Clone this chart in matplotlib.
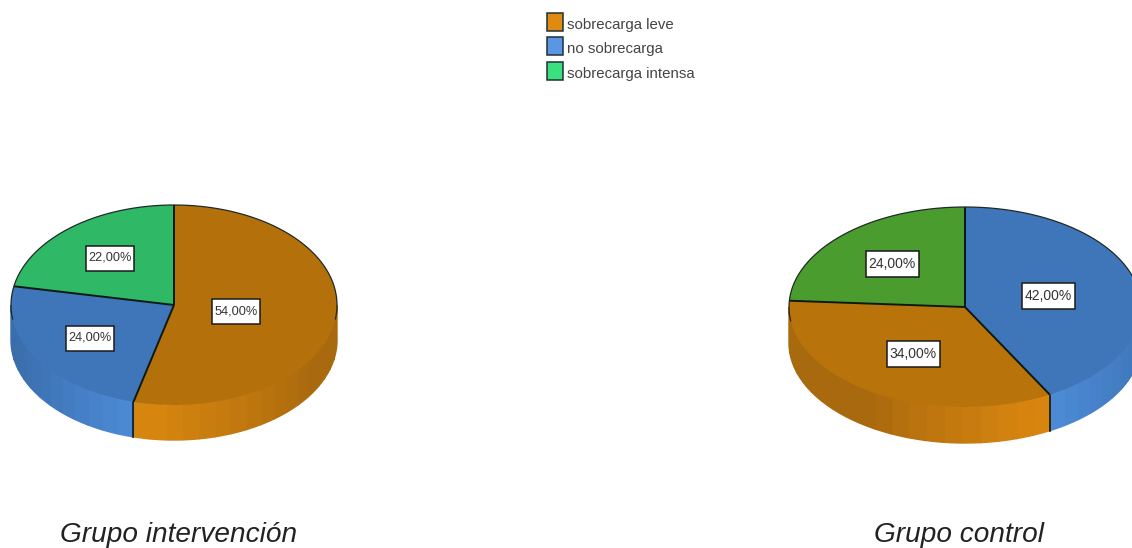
import numpy as np
import matplotlib
matplotlib.use("Agg")
import matplotlib.pyplot as plt
from matplotlib.colors import to_rgb
from matplotlib.patches import Rectangle
import matplotlib.font_manager as fm

CATEGORIES = ["sobrecarga leve", "no sobrecarga", "sobrecarga intensa"]
GROUP_1_NAME = "Grupo intervención"
GROUP_1_SLICES = ["sobrecarga leve", "no sobrecarga", "sobrecarga intensa"]
GROUP_1_VALUES = [54.0, 24.0, 22.0]
GROUP_2_NAME = "Grupo control"
GROUP_2_SLICES = ["no sobrecarga", "sobrecarga leve", "sobrecarga intensa"]
GROUP_2_VALUES = [42.0, 34.0, 24.0]

W, H = 1132, 548
BLACK = "#0d1a14"
LEGEND_COL = {"sobrecarga leve": "#e08a12", "no sobrecarga": "#5a96e2", "sobrecarga intensa": "#3adf7e"}
SIDE = {"sobrecarga leve": ("#a9690e", "#d8860f"), "no sobrecarga": ("#34659f", "#4f8edc"),
        "sobrecarga intensa": ("#2a9c50", "#33b860")}
TOP_1 = {"sobrecarga leve": "#b4700b", "no sobrecarga": "#3f75b9", "sobrecarga intensa": "#2fb865"}
TOP_2 = {"sobrecarga leve": "#b9730b", "no sobrecarga": "#3f75b9", "sobrecarga intensa": "#4a9c2f"}

names = {f.name for f in fm.fontManager.ttflist}
NARROW = "Liberation Sans Narrow" if "Liberation Sans Narrow" in names else "Liberation Sans"

fig = plt.figure(figsize=(W / 100, H / 100), dpi=100, facecolor="white")


def pie3d(values, slices, tops, cx, cy, rx, ry, depth, peak):
    d = depth / ry
    ax = fig.add_axes([(cx - rx) / W, 1 - (cy + ry + depth) / H, 2 * rx / W, (2 * ry + depth) / H])
    start = 0.0
    total = sum(values)
    bounds = []
    radii = []
    for v, name in zip(values, slices):
        end = start + 360.0 * v / total
        radii.append(np.radians(start))
        a, b = max(start, 90.0), min(end, 270.0)
        if b > a:
            edges = np.linspace(a, b, max(2, int((b - a) / 6) + 2))
            dark, light = map(np.array, map(to_rgb, SIDE[name]))
            for t0, t1 in zip(edges[:-1], edges[1:]):
                tt = np.radians(np.linspace(t0, t1, 6))
                x, y = np.sin(tt), np.cos(tt)
                s = 1 - min(1, abs(x.mean() - peak) / (1 - abs(peak) * 0.2))
                col = dark + (light - dark) * s ** 0.8
                ax.fill(np.r_[x, x[::-1]], np.r_[y, y[::-1] - d], facecolor=col, edgecolor=col,
                        lw=1.0, zorder=1, clip_on=False)
        if 90 < end < 270:
            bounds.append(np.radians(end))
        start = end
    for t in bounds:
        ax.plot([np.sin(t)] * 2, [np.cos(t), np.cos(t) - d], color=BLACK, lw=1.2, zorder=2)
    wedges, _ = ax.pie(values, colors=[tops[n] for n in slices], startangle=90, counterclock=False,
                       radius=1, wedgeprops=dict(edgecolor="none", linewidth=0, zorder=3))
    for w in wedges:
        w.set_clip_on(False)
    for t in radii:
        ax.plot([0, np.sin(t)], [0, np.cos(t)], color=BLACK, lw=1.4, zorder=4, clip_on=False, solid_capstyle="butt")
    arc = np.radians(np.linspace(-98, 98, 160))
    ax.plot(np.sin(arc), np.cos(arc), color="#1f2a24", lw=0.9, zorder=4, clip_on=False)
    ax.set_aspect("auto")
    ax.set_xlim(-1, 1)
    ax.set_ylim(-1 - d, 1)
    ax.axis("off")


pie3d(GROUP_1_VALUES, GROUP_1_SLICES, TOP_1, 174, 305, 163, 100, 35, -0.15)
pie3d(GROUP_2_VALUES, GROUP_2_SLICES, TOP_2, 965, 307, 176, 100, 36, 0.4)

ov = fig.add_axes([0, 0, 1, 1], facecolor="none")
ov.set_xlim(0, W)
ov.set_ylim(H, 0)
ov.axis("off")


def pct(v):
    return f"{v:.2f}".replace(".", ",") + "%"


LABEL_POS_1 = [(236, 311), (90, 338), (110, 258)]
LABEL_POS_2 = [(1048, 296), (913, 354), (892, 264)]
for vals, pos, bw, bh, fs in ((GROUP_1_VALUES, LABEL_POS_1, 48, 25, 9.2), (GROUP_2_VALUES, LABEL_POS_2, 53, 26, 10.0)):
    for v, (x, y) in zip(vals, pos):
        ov.add_patch(Rectangle((x - bw / 2, y - bh / 2), bw, bh, facecolor="white", edgecolor="#1a1a1a",
                               linewidth=1.1, zorder=5))
        ov.text(x, y, pct(v), ha="center", va="center", fontsize=fs, family=NARROW, color="#333333", zorder=6)

for name, y, ty in zip(CATEGORIES, (22, 46, 71), (25, 49, 74)):
    ov.add_patch(Rectangle((547, y - 9), 16, 18, facecolor=LEGEND_COL[name], edgecolor="#20303a", linewidth=1.1, zorder=5))
    ov.text(567, ty, name, ha="left", va="center", fontsize=10.8, family=NARROW, color="#444444", zorder=5)

ov.text(179, 535, GROUP_1_NAME, ha="center", va="center", fontsize=20.2, style="italic",
        family="Liberation Sans", color="#222222")
ov.text(959, 535, GROUP_2_NAME, ha="center", va="center", fontsize=20.2, style="italic",
        family="Liberation Sans", color="#222222")

fig.savefig("out.png", dpi=100, facecolor="white")
